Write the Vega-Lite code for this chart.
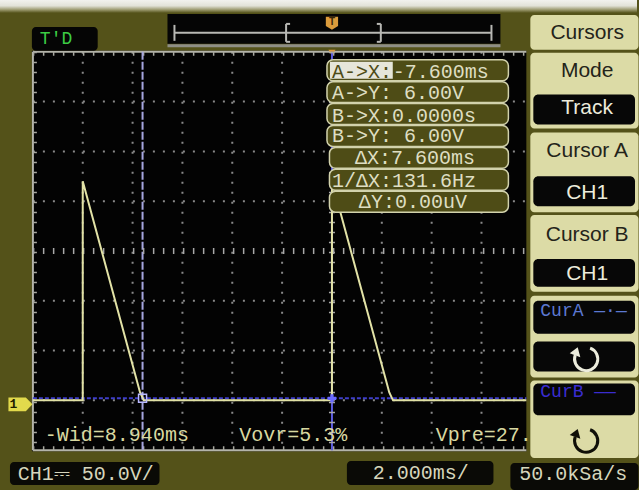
{
  "$schema": "https://vega.github.io/schema/vega-lite/v6.json",
  "width": 639,
  "height": 490,
  "padding": 0,
  "autosize": {"type": "fit", "contains": "padding"},
  "background": "#545219",
  "config": {"view": {"stroke": null}},
  "datasets": {
    "band": [{"t": -13.32, "t2": 12.24, "v": 406, "v2": 393}],
    "screen": [{"t": -12.04, "t2": 7.8, "v": 355, "v2": -47}],
    "gridDots": [
      {"t": -10, "t2": -10, "v": 354, "v2": -46},
      {"t": -8, "t2": -8, "v": 354, "v2": -46},
      {"t": -6, "t2": -6, "v": 354, "v2": -46},
      {"t": -4, "t2": -4, "v": 354, "v2": -46},
      {"t": -2, "t2": -2, "v": 354, "v2": -46},
      {"t": 2, "t2": 2, "v": 354, "v2": -46},
      {"t": 4, "t2": 4, "v": 354, "v2": -46},
      {"t": 6, "t2": 6, "v": 354, "v2": -46},
      {"t": -12, "t2": 7.8, "v": 304, "v2": 304},
      {"t": -12, "t2": 7.8, "v": 254, "v2": 254},
      {"t": -12, "t2": 7.8, "v": 204, "v2": 204},
      {"t": -12, "t2": 7.8, "v": 104, "v2": 104},
      {"t": -12, "t2": 7.8, "v": 54, "v2": 54},
      {"t": -12, "t2": 7.8, "v": 4, "v2": 4}
    ],
    "centerTicks": [
      {"t": 0, "t2": 0, "v": 354, "v2": -46},
      {"t": -12, "t2": 7.8, "v": 154, "v2": 154}
    ],
    "border": [
      {"t": -12, "t2": 7.8, "v": 354, "v2": 354},
      {"t": -12, "t2": 7.8, "v": -46, "v2": -46},
      {"t": -12, "t2": -12, "v": 354, "v2": -46}
    ],
    "borderTicks": [
      {"t": -12, "t2": 7.8, "v": 352, "v2": 352},
      {"t": -12, "t2": 7.8, "v": -44, "v2": -44},
      {"t": -11.92, "t2": -11.92, "v": 354, "v2": -46}
    ],
    "bar": [{"t": -6.6, "t2": 6.76, "v": 392, "v2": 362}],
    "barEdge": [{"t": -6.6, "t2": 6.76, "v": 360, "v2": 360}],
    "barLines": [
      {"t": -6.32, "t2": 6.4, "v": 373, "v2": 373},
      {"t": -6.32, "t2": -6.32, "v": 381, "v2": 365},
      {"t": 6.4, "t2": 6.4, "v": 381, "v2": 365},
      {"t": -1.84, "t2": -1.84, "v": 382, "v2": 364},
      {"t": -1.84, "t2": -1.68, "v": 382, "v2": 382},
      {"t": -1.84, "t2": -1.68, "v": 364, "v2": 364},
      {"t": 1.96, "t2": 1.96, "v": 382, "v2": 364},
      {"t": 1.8, "t2": 1.96, "v": 382, "v2": 382},
      {"t": 1.8, "t2": 1.96, "v": 364, "v2": 364}
    ],
    "trigger": [{"t": 0, "v": 383, "label": "T"}],
    "trigArrow": [{"t": 0, "v": 353}],
    "tdBox": [{"t": -12.04, "t2": -9.4, "v": 379, "v2": 355}],
    "tdText": [{"t": -11.72, "v": 367, "label": "T'D"}],
    "curH": [{"t": -12, "t2": 7.8, "v": 6, "v2": 6}],
    "curA": [{"t": -7.6, "t2": -7.6, "v": 354, "v2": -46}],
    "curB": [{"t": 0, "t2": 0, "v": 354, "v2": -46}],
    "trace": [
      {"i": 0, "t": -12, "v": 4},
      {"i": 1, "t": -10, "v": 4},
      {"i": 2, "t": -10, "v": 224},
      {"i": 3, "t": -7.7, "v": 12},
      {"i": 4, "t": -7.55, "v": 4},
      {"i": 5, "t": 0, "v": 4},
      {"i": 6, "t": 0, "v": 224},
      {"i": 7, "t": 2.3, "v": 12},
      {"i": 8, "t": 2.45, "v": 4},
      {"i": 9, "t": 7.8, "v": 4}
    ],
    "curMarkA": [{"t": -7.6, "v": 6}],
    "curMarkB": [{"t": 0, "v": 6}],
    "readBoxes": [
      {"t": -0.2, "t2": 7.08, "v": 346, "v2": 325},
      {"t": -0.2, "t2": 7.08, "v": 324, "v2": 303},
      {"t": -0.2, "t2": 7.08, "v": 302, "v2": 281},
      {"t": -0.2, "t2": 7.08, "v": 280, "v2": 259},
      {"t": -0.1, "t2": 7.08, "v": 258, "v2": 237},
      {"t": -0.1, "t2": 7.08, "v": 236, "v2": 215},
      {"t": -0.1, "t2": 7.08, "v": 214, "v2": 193}
    ],
    "readHi": [{"t": -0.08, "t2": 2.44, "v": 344, "v2": 327}],
    "readHiText": [{"t": 0, "v": 334, "label": "A->X:"}],
    "readText": [
      {"t": 2.44, "v": 334, "label": "-7.600ms"},
      {"t": 0, "v": 313, "label": "A->Y: 6.00V"},
      {"t": 0, "v": 290, "label": "B->X:0.0000s"},
      {"t": 0, "v": 269, "label": "B->Y: 6.00V"},
      {"t": 0.92, "v": 247, "label": "ΔX:7.600ms"},
      {"t": 0, "v": 224, "label": "1/ΔX:131.6Hz"},
      {"t": 1.08, "v": 203, "label": "ΔY:0.00uV"}
    ],
    "measure": [
      {"t": -11.52, "v": -31, "label": "-Wid=8.940ms"},
      {"t": -3.72, "v": -31, "label": "Vovr=5.3%"},
      {"t": 4.16, "v": -31, "label": "Vpre=27."}
    ],
    "ground": [{"t": -12.5, "v": 0}],
    "groundText": [{"t": -12.78, "v": 0, "label": "1"}],
    "menuItems": [
      {"t": 7.96, "t2": 12.3, "v": 391, "v2": 356},
      {"t": 7.96, "t2": 12.3, "v": 353, "v2": 277},
      {"t": 7.96, "t2": 12.3, "v": 273, "v2": 193},
      {"t": 7.96, "t2": 12.3, "v": 190, "v2": 113},
      {"t": 7.96, "t2": 12.3, "v": 109, "v2": 27},
      {"t": 7.96, "t2": 12.3, "v": 24, "v2": -54}
    ],
    "menuInsets": [
      {"t": 8.08, "t2": 12.16, "v": 311, "v2": 281},
      {"t": 8.08, "t2": 12.16, "v": 229, "v2": 199},
      {"t": 8.08, "t2": 12.16, "v": 146, "v2": 118},
      {"t": 8.08, "t2": 12.16, "v": 104, "v2": 71},
      {"t": 8.08, "t2": 12.16, "v": 63, "v2": 33},
      {"t": 8.08, "t2": 12.16, "v": 21, "v2": -11}
    ],
    "menuDark": [
      {"t": 10.24, "v": 373, "label": "Cursors"},
      {"t": 10.24, "v": 335, "label": "Mode"},
      {"t": 10.24, "v": 254, "label": "Cursor A"},
      {"t": 10.24, "v": 170, "label": "Cursor B"}
    ],
    "menuLight": [
      {"t": 10.24, "v": 298, "label": "Track"},
      {"t": 10.24, "v": 212, "label": "CH1"},
      {"t": 10.24, "v": 131, "label": "CH1"}
    ],
    "curALabel": [{"t": 8.36, "v": 94, "label": "CurA —·—"}],
    "curBLabel": [{"t": 8.36, "v": 12, "label": "CurB ——"}],
    "iconLight": [{"t": 10.1, "v": 48}],
    "iconDark": [{"t": 10.1, "v": -34}],
    "bottomBoxes": [
      {"t": -12.92, "t2": -6.92, "v": -58, "v2": -81},
      {"t": 0.6, "t2": 6.48, "v": -57, "v2": -81},
      {"t": 7.16, "t2": 12.3, "v": -59, "v2": -86}
    ],
    "bottomText": [
      {"t": -9.88, "v": -70, "label": "CH1⎓ 50.0V/"},
      {"t": 3.56, "v": -69, "label": "2.000ms/"},
      {"t": 9.68, "v": -70, "label": "50.0kSa/s"}
    ]
  },
  "encoding": {
    "x": {"field": "t", "type": "quantitative", "scale": {"domain": [-13.32, 12.24], "nice": false, "zero": false}, "axis": null},
    "y": {"field": "v", "type": "quantitative", "scale": {"domain": [-84, 406], "nice": false, "zero": false}, "axis": null}
  },
  "layer": [
    {
      "data": {"name": "band"},
      "mark": {"type": "rect", "fill": {"gradient": "linear", "x1": 0, "y1": 0, "x2": 0, "y2": 1, "stops": [
        {"offset": 0, "color": "#f2f2ee"}, {"offset": 0.45, "color": "#e2e2d8"}, {"offset": 0.75, "color": "#9c9a70"}, {"offset": 1, "color": "#545219"}]}},
      "encoding": {"x2": {"field": "t2"}, "y2": {"field": "v2"}}
    },
    {
      "data": {"name": "screen"},
      "mark": {"type": "rect", "fill": "#030303"},
      "encoding": {"x2": {"field": "t2"}, "y2": {"field": "v2"}}
    },
    {
      "data": {"name": "gridDots"},
      "mark": {"type": "rule", "color": "#8a8a8a", "strokeWidth": 2, "strokeDash": [2, 8]},
      "encoding": {"x2": {"field": "t2"}, "y2": {"field": "v2"}}
    },
    {
      "data": {"name": "border"},
      "mark": {"type": "rule", "color": "#b4b4aa", "strokeWidth": 2},
      "encoding": {"x2": {"field": "t2"}, "y2": {"field": "v2"}}
    },
    {
      "data": {"name": "borderTicks"},
      "mark": {"type": "rule", "color": "#a8a8a0", "strokeWidth": 4, "strokeDash": [1.5, 8.5]},
      "encoding": {"x2": {"field": "t2"}, "y2": {"field": "v2"}}
    },
    {
      "data": {"name": "bar"},
      "mark": {"type": "rect", "fill": "#050505"},
      "encoding": {"x2": {"field": "t2"}, "y2": {"field": "v2"}}
    },
    {
      "data": {"name": "barEdge"},
      "mark": {"type": "rule", "color": "#8e8e86", "strokeWidth": 3},
      "encoding": {"x2": {"field": "t2"}, "y2": {"field": "v2"}}
    },
    {
      "data": {"name": "barLines"},
      "mark": {"type": "rule", "color": "#b8b8b4", "strokeWidth": 2},
      "encoding": {"x2": {"field": "t2"}, "y2": {"field": "v2"}}
    },
    {
      "data": {"name": "trigger"},
      "mark": {"type": "point", "shape": "M-1,-1H1V0.5L0,1.1L-1,0.5Z", "size": 150, "filled": true, "fill": "#dc9c3c", "opacity": 1, "strokeWidth": 0},
      "encoding": {}
    },
    {
      "data": {"name": "trigger"},
      "mark": {"type": "text", "font": "Liberation Sans", "fontSize": 10, "fontWeight": "bold", "color": "#3a2608", "baseline": "middle", "align": "center", "dy": -1},
      "encoding": {"text": {"field": "label"}}
    },
    {
      "data": {"name": "trigArrow"},
      "mark": {"type": "point", "shape": "triangle-down", "size": 50, "filled": true, "fill": "#dc9c3c", "opacity": 1, "strokeWidth": 0},
      "encoding": {}
    },
    {
      "data": {"name": "tdBox"},
      "mark": {"type": "rect", "fill": "#050505", "cornerRadius": 4},
      "encoding": {"x2": {"field": "t2"}, "y2": {"field": "v2"}}
    },
    {
      "data": {"name": "tdText"},
      "mark": {"type": "text", "font": "Liberation Mono", "fontSize": 18, "color": "#3ccc44", "baseline": "middle", "align": "left"},
      "encoding": {"text": {"field": "label"}}
    },
    {
      "data": {"name": "curH"},
      "mark": {"type": "rule", "color": "#3e3ec8", "strokeWidth": 2, "strokeDash": [4, 2]},
      "encoding": {"x2": {"field": "t2"}, "y2": {"field": "v2"}}
    },
    {
      "data": {"name": "curA"},
      "mark": {"type": "rule", "color": "#a6a6e0", "strokeWidth": 2, "strokeDash": [8, 2]},
      "encoding": {"x2": {"field": "t2"}, "y2": {"field": "v2"}}
    },
    {
      "data": {"name": "curB"},
      "mark": {"type": "rule", "color": "#5c5ce0", "strokeWidth": 2},
      "encoding": {"x2": {"field": "t2"}, "y2": {"field": "v2"}}
    },
    {
      "data": {"name": "centerTicks"},
      "mark": {"type": "rule", "color": "#a8a8a8", "strokeWidth": 6, "strokeDash": [1.5, 8.5]},
      "encoding": {"x2": {"field": "t2"}, "y2": {"field": "v2"}}
    },
    {
      "data": {"name": "trace"},
      "mark": {"type": "line", "color": "#e2e2a6", "strokeWidth": 2},
      "encoding": {"order": {"field": "i", "type": "quantitative"}}
    },
    {
      "data": {"name": "curMarkA"},
      "mark": {"type": "point", "shape": "square", "size": 64, "filled": false, "stroke": "#b8b8ff", "strokeWidth": 1.5, "opacity": 1},
      "encoding": {}
    },
    {
      "data": {"name": "curMarkB"},
      "mark": {"type": "point", "shape": "cross", "size": 70, "filled": true, "fill": "#6a6aff", "opacity": 1},
      "encoding": {}
    },
    {
      "data": {"name": "readBoxes"},
      "mark": {"type": "rect", "fill": "#4e4c16", "stroke": "#d2d2ac", "strokeWidth": 1.5, "cornerRadius": 6},
      "encoding": {"x2": {"field": "t2"}, "y2": {"field": "v2"}}
    },
    {
      "data": {"name": "readHi"},
      "mark": {"type": "rect", "fill": "#e6e6da"},
      "encoding": {"x2": {"field": "t2"}, "y2": {"field": "v2"}}
    },
    {
      "data": {"name": "readHiText"},
      "mark": {"type": "text", "font": "Liberation Mono", "fontSize": 20, "color": "#4e4c16", "baseline": "middle", "align": "left"},
      "encoding": {"text": {"field": "label"}}
    },
    {
      "data": {"name": "readText"},
      "mark": {"type": "text", "font": "Liberation Mono", "fontSize": 20, "color": "#dedec2", "baseline": "middle", "align": "left"},
      "encoding": {"text": {"field": "label"}}
    },
    {
      "data": {"name": "measure"},
      "mark": {"type": "text", "font": "Liberation Mono", "fontSize": 20, "color": "#d8d8a0", "baseline": "middle", "align": "left"},
      "encoding": {"text": {"field": "label"}}
    },
    {
      "data": {"name": "ground"},
      "mark": {"type": "point", "shape": "M-1,-0.58L0.45,-0.58L1,0L0.45,0.58L-1,0.58Z", "size": 576, "filled": true, "fill": "#e2da4c", "opacity": 1, "strokeWidth": 0},
      "encoding": {}
    },
    {
      "data": {"name": "groundText"},
      "mark": {"type": "text", "font": "Liberation Mono", "fontSize": 13, "fontWeight": "bold", "color": "#1e1e00", "baseline": "middle", "align": "center"},
      "encoding": {"text": {"field": "label"}}
    },
    {
      "data": {"name": "menuItems"},
      "mark": {"type": "rect", "fill": "#dcdba6", "cornerRadius": 4},
      "encoding": {"x2": {"field": "t2"}, "y2": {"field": "v2"}}
    },
    {
      "data": {"name": "menuInsets"},
      "mark": {"type": "rect", "fill": "#070707", "cornerRadius": 5},
      "encoding": {"x2": {"field": "t2"}, "y2": {"field": "v2"}}
    },
    {
      "data": {"name": "menuDark"},
      "mark": {"type": "text", "font": "Liberation Sans", "fontSize": 21, "color": "#24241a", "baseline": "middle", "align": "center"},
      "encoding": {"text": {"field": "label"}}
    },
    {
      "data": {"name": "menuLight"},
      "mark": {"type": "text", "font": "Liberation Sans", "fontSize": 21, "color": "#ececdc", "baseline": "middle", "align": "center"},
      "encoding": {"text": {"field": "label"}}
    },
    {
      "data": {"name": "curALabel"},
      "mark": {"type": "text", "font": "Liberation Mono", "fontSize": 18, "color": "#5c78d2", "baseline": "middle", "align": "left"},
      "encoding": {"text": {"field": "label"}}
    },
    {
      "data": {"name": "curBLabel"},
      "mark": {"type": "text", "font": "Liberation Mono", "fontSize": 18, "color": "#3a2cd0", "baseline": "middle", "align": "left"},
      "encoding": {"text": {"field": "label"}}
    },
    {
      "data": {"name": "iconLight"},
      "mark": {"type": "point", "shape": "M0.389,-0.508A0.7,0.7 0 1 1 -0.508,-0.089", "size": 1100, "filled": false, "stroke": "#ececdc", "strokeWidth": 3, "opacity": 1},
      "encoding": {}
    },
    {
      "data": {"name": "iconLight"},
      "mark": {"type": "point", "shape": "M-0.36,-0.56L-0.2,0.04L-0.84,-0.2Z", "size": 1100, "filled": true, "fill": "#ececdc", "opacity": 1, "strokeWidth": 0},
      "encoding": {}
    },
    {
      "data": {"name": "iconDark"},
      "mark": {"type": "point", "shape": "M0.389,-0.508A0.7,0.7 0 1 1 -0.508,-0.089", "size": 1100, "filled": false, "stroke": "#101008", "strokeWidth": 3, "opacity": 1},
      "encoding": {}
    },
    {
      "data": {"name": "iconDark"},
      "mark": {"type": "point", "shape": "M-0.36,-0.56L-0.2,0.04L-0.84,-0.2Z", "size": 1100, "filled": true, "fill": "#101008", "opacity": 1, "strokeWidth": 0},
      "encoding": {}
    },
    {
      "data": {"name": "bottomBoxes"},
      "mark": {"type": "rect", "fill": "#0a0a06", "cornerRadius": 4},
      "encoding": {"x2": {"field": "t2"}, "y2": {"field": "v2"}}
    },
    {
      "data": {"name": "bottomText"},
      "mark": {"type": "text", "font": "Liberation Mono", "fontSize": 20, "color": "#d6d6bc", "baseline": "middle", "align": "center"},
      "encoding": {"text": {"field": "label"}}
    }
  ]
}
